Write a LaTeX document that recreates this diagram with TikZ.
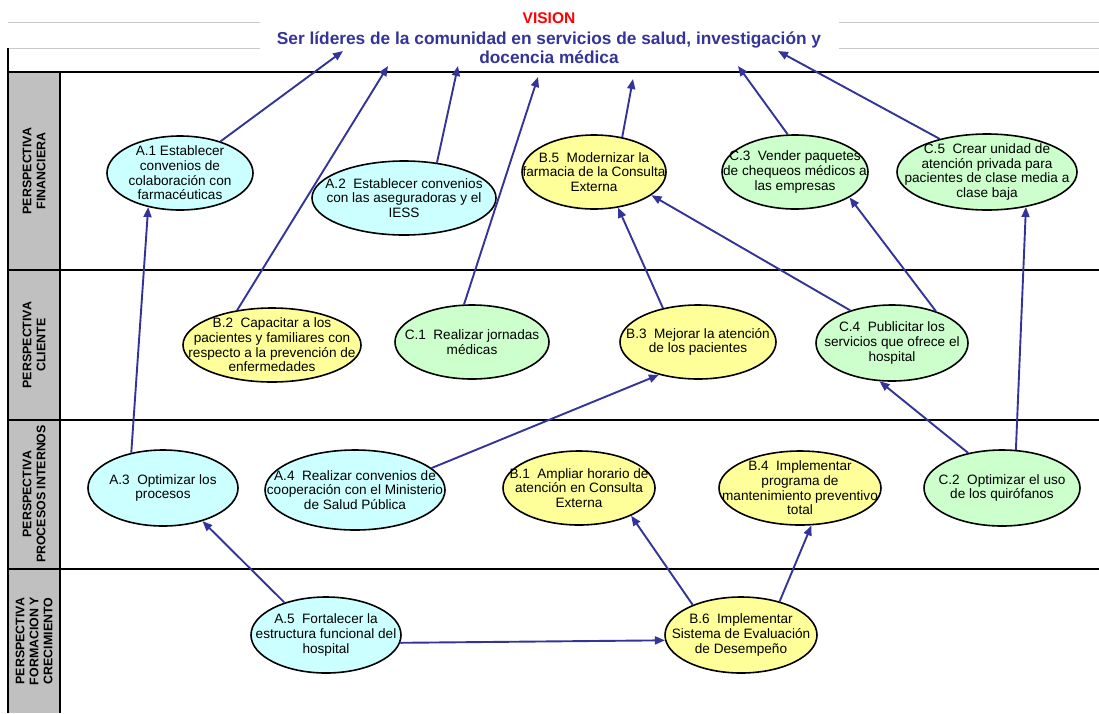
\documentclass[tikz,border=0pt]{standalone}
\usepackage{fontspec}
\setmainfont{Liberation Sans}
\usetikzlibrary{shapes.geometric,arrows.meta}
\definecolor{arrblue}{RGB}{51,51,153}
\definecolor{visblue}{RGB}{51,51,153}
\definecolor{cyanfill}{RGB}{204,255,255}
\definecolor{yelfill}{RGB}{255,255,153}
\definecolor{grnfill}{RGB}{204,255,204}
\definecolor{lanegray}{RGB}{192,192,192}
\definecolor{thingray}{RGB}{200,200,200}
\tikzset{
  objell/.style={ellipse, draw=black, line width=1.6pt, inner sep=0pt},
  objtxt/.style={align=center, inner sep=0pt, font=\fontsize{13.6}{14.6}\selectfont},
  lanelbl/.style={rotate=90, align=center, font=\bfseries\fontsize{12.4}{14}\selectfont},
  arr/.style={draw=arrblue, line width=1.9pt, -{Triangle[length=10pt,width=8pt]}},
  laneline/.style={draw=black, line width=1.1pt},
  greyline/.style={draw=thingray, line width=1pt}
}
\newcommand\objnode[7]{%
  \node[objell, fill=#6, minimum width=#4, minimum height=#5] (#1) at (#2,#3) {};
  \node[objtxt] (#1-t) at (#1.center) {#7};
}
\newcommand\gap{\hspace{0.55em}}
\begin{document}
\begin{tikzpicture}[x=1pt,y=-1pt]
\useasboundingbox (0,0) rectangle (1099,713);
% frame
\fill[lanegray] (8,72) rectangle (60,713);
\draw[greyline] (8,22) -- (260,22);
\draw[greyline] (839,22) -- (1099,22);
\draw[greyline] (8,48) -- (260,48);
\draw[greyline] (839,48) -- (1099,48);
\draw[laneline] (8,48) -- (8,713);
\draw[laneline] (60,72) -- (60,713);
\draw[laneline] (8,72) -- (1099,72);
\draw[laneline] (8,270) -- (1099,270);
\draw[laneline] (8,420) -- (1099,420);
\draw[laneline] (8,569) -- (1099,569);
% lane labels
\node[lanelbl] (lfin) at (34,171) {PERSPECTIVA\\FINANCIERA};
\node[lanelbl] (lcli) at (34,345) {PERSPECTIVA\\CLIENTE};
\node[lanelbl] (lpro) at (34,494) {PERSPECTIVA\\PROCESOS INTERNOS};
\node[lanelbl] (lfor) at (34,641) {PERSPECTIVA\\FORMACION Y\\CRECIMIENTO};
% vision
\node[text=red, font=\bfseries\fontsize{15.5}{17}\selectfont] (vishead) at (549,18) {VISION};
\node[text=visblue, align=center, font=\bfseries\fontsize{17.3}{19}\selectfont] (vision) at (549,47.5) {Ser líderes de la comunidad en servicios de salud, investigación y\\docencia médica};
\coordinate (v1) at (343,51);
\coordinate (v2) at (388,66);
\coordinate (v3) at (458,66);
\coordinate (v4) at (538,77);
\coordinate (v5) at (633,79);
\coordinate (v6) at (738,66);
\coordinate (v7) at (778,51);
% objectives
\objnode{A1}{180}{173}{146}{74}{cyanfill}{A.1 Establecer\\convenios de\\colaboración con\\farmacéuticas}
\objnode{A2}{404}{198}{184}{74}{cyanfill}{A.2\gap Establecer convenios\\con las aseguradoras y el\\IESS}
\objnode{B5}{594}{172}{144}{74}{yelfill}{B.5\gap Modernizar la\\farmacia de la Consulta\\Externa}
\objnode{C3}{795}{172}{146}{74}{grnfill}{C.3\gap Vender paquetes\\de chequeos médicos a\\las empresas}
\objnode{C5}{987}{172}{180}{76}{grnfill}{C.5\gap Crear unidad de\\atención privada para\\pacientes de clase media a\\clase baja}
\objnode{B2}{272}{345}{178}{74}{yelfill}{B.2\gap Capacitar a los\\pacientes y familiares con\\respecto a la prevención de\\enfermedades}
\objnode{C1}{472}{342}{154}{74}{grnfill}{C.1\gap Realizar jornadas\\médicas}
\objnode{B3}{698}{342}{156}{74}{yelfill}{B.3\gap Mejorar la atención\\de los pacientes}
\objnode{C4}{892}{343}{152}{76}{grnfill}{C.4\gap Publicitar los\\servicios que ofrece el\\hospital}
\objnode{A3}{163}{488}{150}{76}{cyanfill}{A.3\gap Optimizar los\\procesos}
\objnode{A4}{355}{490}{180}{80}{cyanfill}{A.4\gap Realizar convenios de\\cooperación con el Ministerio\\de Salud Pública}
\objnode{B1}{579}{488}{152}{74}{yelfill}{B.1\gap Ampliar horario de\\atención en Consulta\\Externa}
\objnode{B4}{800}{488}{162}{74}{yelfill}{B.4\gap Implementar\\programa de\\mantenimiento preventivo\\total}
\objnode{C2}{1002}{488}{156}{76}{grnfill}{C.2\gap Optimizar el uso\\de los quirófanos}
\objnode{A5}{326}{635}{150}{76}{cyanfill}{A.5\gap Fortalecer la\\estructura funcional del\\hospital}
\objnode{B6}{741}{635}{152}{76}{yelfill}{B.6\gap Implementar\\Sistema de Evaluación\\de Desempeño}
% arrows to vision
\draw[arr] (A1.38) -- (v1);
\draw[arr] (B2.135) -- (v2);
\draw[arr] (A2.47) -- (v3);
\draw[arr] (C1.102) -- (v4);
\draw[arr] (B5.51) -- (v5);
\draw[arr] (C3.101) -- (v6);
\draw[arr] (C5.145) -- (v7);
% internal arrows
\draw[arr] (A3.132) -- (A1.227);
\draw[arr] (B3.136) -- (B5.304);
\draw[arr] (C4.142) -- (B5.338);
\draw[arr] (C4.36) -- (C3.335);
\draw[arr] (C2.70) -- (C5.318);
\draw[arr] (C2.134) -- (C4.252);
\draw[arr] (A4.16) -- (B3.220);
\draw[arr] (A5.142) -- (A3.320);
\draw[arr] (A5.354) -- (B6.184);
\draw[arr] (B6.148) -- (B1.332);
\draw[arr] (B6.41) -- (B4.287);
\end{tikzpicture}
\end{document}
